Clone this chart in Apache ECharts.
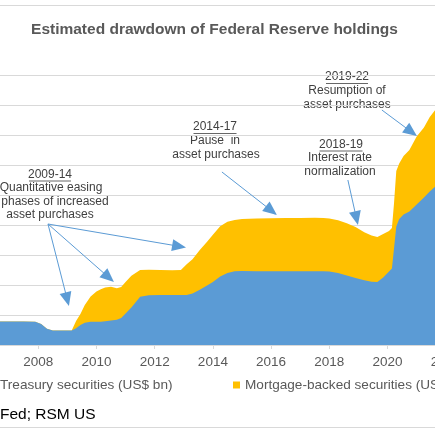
<!DOCTYPE html>
<html><head><meta charset="utf-8">
<script src="https://cdn.jsdelivr.net/npm/echarts@6/dist/echarts.min.js"></script>
<style>html,body{margin:0;padding:0;background:#fff}#c{width:435px;height:435px}</style>
</head><body><div id="c"></div>
<script>
// ---- data (US$ bn) ----
const years = [2006.6, 2007.0, 2007.5, 2007.9, 2008.1, 2008.3, 2008.5, 2008.9, 2009.15, 2009.3, 2009.45, 2009.6, 2009.8, 2010.0, 2010.15, 2010.3, 2010.5, 2010.7, 2010.85, 2011.0, 2011.2, 2011.5, 2011.8, 2012.2, 2012.6, 2012.9, 2013.1, 2013.3, 2013.55, 2013.8, 2014.0, 2014.25, 2014.5, 2014.75, 2015.0, 2015.5, 2016.0, 2016.5, 2017.0, 2017.5, 2017.8, 2018.0, 2018.3, 2018.6, 2018.9, 2019.2, 2019.45, 2019.65, 2019.85, 2020.05, 2020.15, 2020.22, 2020.3, 2020.4, 2020.55, 2020.75, 2021.0, 2021.25, 2021.45, 2021.65, 2021.9, 2022.2];
const treasury = [780, 780, 785, 775, 700, 540, 480, 480, 480, 560, 670, 740, 777, 777, 777, 790, 820, 840, 900, 1050, 1250, 1610, 1660, 1665, 1665, 1665, 1670, 1720, 1840, 1980, 2100, 2280, 2400, 2460, 2470, 2460, 2460, 2460, 2460, 2460, 2460, 2450, 2400, 2320, 2230, 2160, 2110, 2100, 2250, 2450, 2550, 3200, 3950, 4200, 4350, 4450, 4680, 4920, 5120, 5290, 5500, 5700];
const mbs = [0, 0, 0, 0, 0, 0, 0, 0, 0, 240, 360, 590, 843, 1003, 1083, 1130, 1123, 1050, 1030, 1050, 1060, 890, 850, 835, 825, 835, 1020, 1135, 1327, 1460, 1573, 1680, 1710, 1710, 1730, 1760, 1765, 1770, 1775, 1780, 1775, 1770, 1760, 1740, 1700, 1600, 1540, 1500, 1450, 1350, 1350, 1500, 1850, 1850, 1950, 2050, 2270, 2330, 2480, 2560, 2650, 2700];
const seriesNames = ['Treasury securities (US$ bn)', 'Mortgage-backed securities (US$ bn)'];
const titleText = 'Estimated drawdown of Federal Reserve holdings';
const sourceText = 'Fed; RSM US';
// annotation arrows in data units: [from [year, bn], to [year, bn]] (end = centre of arrowhead)
const arrows = [
  [[2008.335, 4033], [2012.84, 3290]],
  [[2008.335, 4033], [2010.42, 2255]],
  [[2008.335, 4033], [2008.995, 1525]],
  [[2014.31, 5767], [2016.01, 4478]],
  [[2018.637, 5500], [2018.93, 4225]],
  [[2019.805, 7833], [2020.815, 7105]]
];

const F = '"Liberation Sans", Arial, sans-serif';
const TXT = '#404040';
const chart = echarts.init(document.getElementById('c'));
// MBS drawn on top of Treasury: its area spans up to Treasury + MBS
const treasuryPts = years.map((y, i) => [y, treasury[i]]);
const stackedPts = years.map((y, i) => [y, treasury[i] + mbs[i]]);

function label(text, x, y, underline) {
  const els = [{type: 'text', silent: true, style: {text: text, x: x, y: y, textAlign: 'center', textVerticalAlign: 'middle', font: '12px ' + F, fill: TXT}}];
  if (underline) {
    const w = underline / 2;
    els.push({type: 'line', silent: true, shape: {x1: x - w, y1: y + 6.5, x2: x + w, y2: y + 6.5}, style: {stroke: TXT, lineWidth: 0.8}});
  }
  return els;
}

const graphics = [].concat(
  label('2009-14', 50, 174.5, 42), label('Quantitative easing', 51, 188), label('phases of increased', 55, 201.5), label('asset purchases', 50, 215),
  label('2014-17', 215, 127, 43), label('Pause  in', 215, 141), label('asset purchases', 216, 155),
  label('2018-19', 341, 144.5, 43), label('Interest rate', 340, 158), label('normalization', 340, 171.5),
  label('2019-22', 347, 77, 42), label('Resumption of', 347, 91), label('asset purchases', 347, 104.5),
  [
    {type: 'text', silent: true, style: {text: titleText, x: 214.5, y: 30, textAlign: 'center', textVerticalAlign: 'middle', font: 'bold 15.5px ' + F, fill: '#595959'}},
    {type: 'text', silent: true, style: {text: sourceText, x: 0, y: 415, textVerticalAlign: 'middle', font: '15.5px ' + F, fill: '#000'}},
    {type: 'line', silent: true, shape: {x1: 0, y1: 5.5, x2: 435, y2: 5.5}, style: {stroke: '#D9D9D9', lineWidth: 1}},
    {type: 'line', silent: true, shape: {x1: 0, y1: 427.5, x2: 435, y2: 427.5}, style: {stroke: '#D9D9D9', lineWidth: 1}}
  ]
);

const legendBase = {icon: 'rect', itemWidth: 7, itemHeight: 7, padding: 0, top: 378, itemGap: 5, textStyle: {fontFamily: F, fontSize: 13.6, color: '#595959'}};

chart.setOption({
  animation: false,
  backgroundColor: '#fff',
  grid: {left: -20, right: -69, top: 75, bottom: 90, containLabel: false, outerBoundsMode: 'none'},
  xAxis: {type: 'value', min: 2006, max: 2024, interval: 2,
    axisLine: {show: true, lineStyle: {color: '#D9D9D9'}},
    axisTick: {show: true, length: 4, lineStyle: {color: '#D9D9D9'}},
    axisLabel: {formatter: v => String(v), color: '#595959', fontSize: 13.5, margin: 10, fontFamily: F, hideOverlap: false},
    splitLine: {show: false}},
  yAxis: {type: 'value', min: 0, max: 9000, interval: 1000,
    axisLabel: {show: false}, axisLine: {show: false}, axisTick: {show: false},
    splitLine: {show: true, lineStyle: {color: '#D9D9D9', width: 1}}},
  legend: [
    Object.assign({}, legendBase, {data: [seriesNames[0]], left: -12}),
    Object.assign({}, legendBase, {data: [seriesNames[1]], left: 233})
  ],
  graphic: graphics,
  series: [
    {name: seriesNames[1], type: 'line', data: stackedPts, symbol: 'none', z: 2,
      lineStyle: {width: 0}, areaStyle: {color: '#FFC000', opacity: 1, origin: 'start'}, itemStyle: {color: '#FFC000'}},
    {name: seriesNames[0], type: 'line', data: treasuryPts, symbol: 'none', z: 3,
      lineStyle: {width: 0}, areaStyle: {color: '#5B9BD5', opacity: 1, origin: 'start'}, itemStyle: {color: '#5B9BD5'},
      markLine: {silent: true, symbol: ['none', 'triangle'], symbolSize: [12, 14], label: {show: false},
        lineStyle: {color: '#5B9BD5', width: 1, type: 'solid'}, emphasis: {disabled: true},
        data: arrows.map(a => [{coord: a[0]}, {coord: a[1]}])}}
  ]
});
</script></body></html>
